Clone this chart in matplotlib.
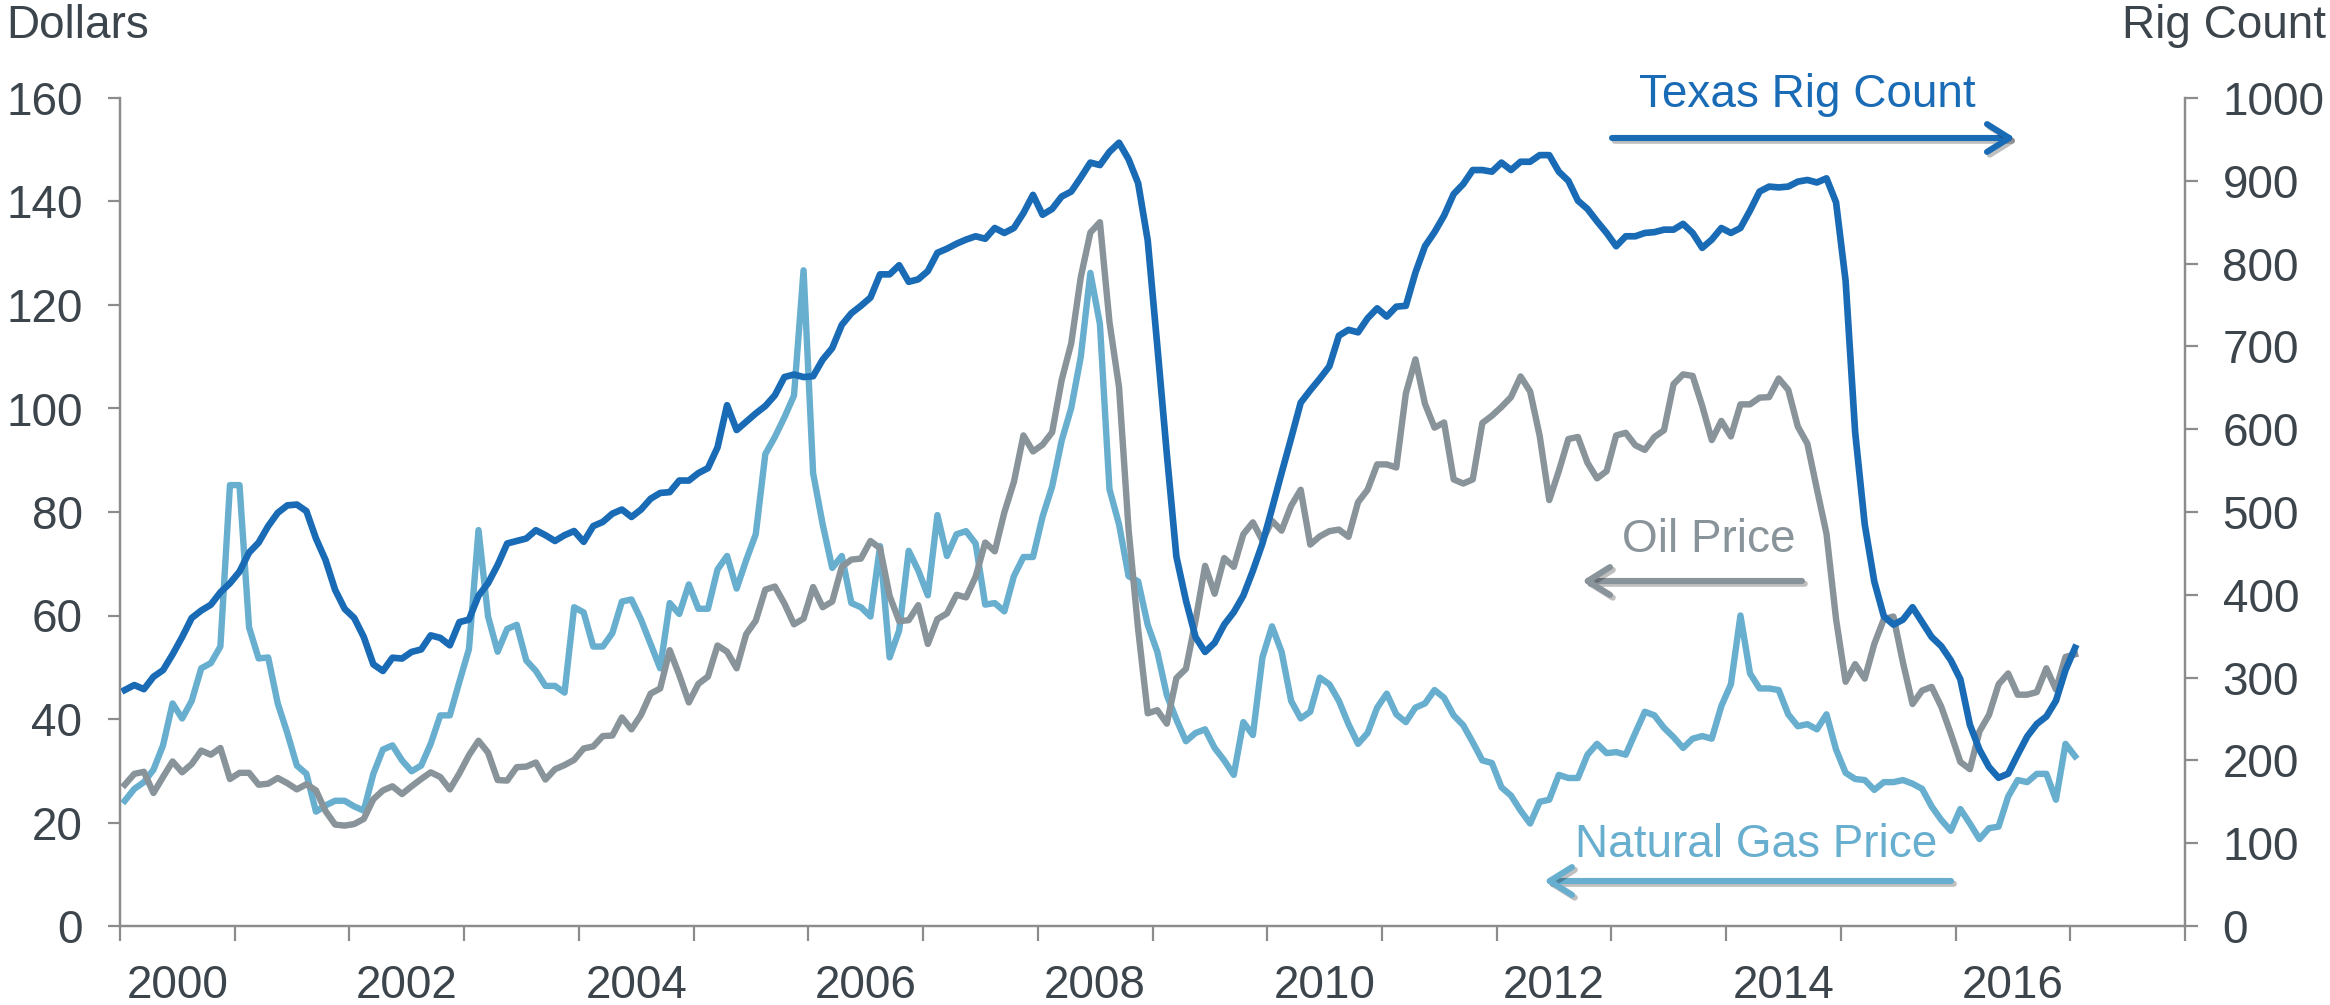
import numpy as np
import matplotlib
matplotlib.use("Agg")
import matplotlib.pyplot as plt
import matplotlib.patheffects as pe

plt.rcParams['font.family'] = ['Liberation Sans', 'DejaVu Sans']

# ---------- Data: monthly, Jan 2000 - Jan 2017 ----------
oil_price = [
    27.3, 29.4, 29.8, 25.7, 28.8, 31.8, 29.7, 31.3, 33.9, 33.1, 34.4, 28.4,   # 2000
    29.6, 29.6, 27.3, 27.5, 28.6, 27.6, 26.4, 27.4, 26.2, 22.2, 19.6, 19.4,   # 2001
    19.7, 20.7, 24.5, 26.2, 27.0, 25.5, 27.0, 28.4, 29.7, 28.8, 26.4, 29.5,   # 2002
    33.0, 35.8, 33.5, 28.2, 28.1, 30.7, 30.8, 31.6, 28.3, 30.3, 31.1, 32.1,   # 2003
    34.3, 34.7, 36.7, 36.8, 40.3, 38.0, 40.8, 44.9, 45.9, 53.3, 48.5, 43.2,   # 2004
    46.8, 48.2, 54.2, 53.0, 49.8, 56.4, 59.0, 65.0, 65.6, 62.3, 58.3, 59.4,   # 2005
    65.5, 61.6, 62.7, 69.4, 70.8, 71.0, 74.4, 73.0, 63.8, 58.9, 59.1, 62.0,   # 2006
    54.5, 59.3, 60.4, 64.0, 63.5, 67.5, 74.1, 72.4, 79.9, 85.8, 94.8, 91.7,   # 2007
    93.0, 95.4, 105.5, 112.6, 125.4, 134.0, 136.0, 116.7, 104.1, 76.6, 57.3, 41.1,  # 2008
    41.7, 39.1, 47.9, 49.7, 59.0, 69.6, 64.2, 71.1, 69.4, 75.7, 78.0, 74.5,   # 2009
    78.3, 76.4, 81.2, 84.3, 73.7, 75.3, 76.3, 76.6, 75.2, 81.9, 84.3, 89.2,   # 2010
    89.2, 88.6, 102.9, 109.5, 100.9, 96.3, 97.3, 86.3, 85.5, 86.3, 97.2, 98.6,  # 2011
    100.3, 102.2, 106.2, 103.3, 94.7, 82.3, 87.9, 94.1, 94.5, 89.5, 86.5, 87.9,  # 2012
    94.8, 95.3, 92.9, 92.0, 94.5, 95.8, 104.7, 106.6, 106.3, 100.5, 93.9, 97.6,  # 2013
    94.6, 100.8, 100.8, 102.1, 102.2, 105.8, 103.6, 96.5, 93.2, 84.4, 75.8, 59.3,  # 2014
    47.2, 50.6, 47.8, 54.5, 59.3, 59.8, 50.9, 42.9, 45.5, 46.2, 42.4, 37.2,   # 2015
    31.7, 30.3, 37.6, 40.8, 46.7, 48.8, 44.7, 44.7, 45.2, 49.8, 45.7, 52.0,   # 2016
    52.5,                                                                     # 2017
]

gas_price = [
    24.2, 26.5, 27.8, 30.2, 34.9, 43.0, 40.1, 43.5, 49.8, 50.8, 54.0, 85.2,
    85.2, 57.7, 51.7, 51.9, 43.0, 37.3, 31.0, 29.4, 22.1, 23.3, 24.2, 24.2,
    23.1, 22.3, 29.4, 34.1, 34.9, 32.0, 29.9, 31.0, 35.2, 40.7, 40.7, 47.2,
    53.5, 76.5, 59.8, 53.0, 57.4, 58.2, 51.3, 49.3, 46.4, 46.4, 45.1, 61.6,
    60.6, 54.0, 54.0, 56.6, 62.7, 63.1, 59.2, 54.5, 49.8, 62.4, 60.3, 66.0,
    61.3, 61.3, 68.9, 71.5, 65.2, 70.7, 75.7, 91.2, 94.5, 98.3, 102.5, 126.7,
    87.5, 77.6, 69.2, 71.5, 62.4, 61.6, 59.8, 73.4, 51.9, 57.1, 72.5, 68.7,
    63.9, 79.4, 71.5, 75.7, 76.3, 73.9, 62.1, 62.4, 60.8, 67.6, 71.3, 71.3,
    79.1, 84.9, 93.8, 100.1, 110.0, 126.2, 116.3, 84.4, 77.6, 67.6, 66.6, 58.2,
    53.0, 44.6, 39.9, 35.7, 37.3, 38.0, 34.4, 32.0, 29.2, 39.4, 36.9, 51.9,
    57.9, 53.0, 43.5, 40.1, 41.4, 48.0, 46.7, 43.5, 39.0, 35.2, 37.3, 42.2,
    44.9, 40.9, 39.4, 42.2, 43.0, 45.6, 44.1, 40.7, 38.8, 35.5, 32.0, 31.5,
    26.8, 25.2, 22.3, 19.8, 24.0, 24.4, 29.2, 28.6, 28.6, 33.1, 35.2, 33.4,
    33.6, 33.1, 37.3, 41.4, 40.7, 38.3, 36.5, 34.4, 36.2, 36.7, 36.2, 42.5,
    46.7, 60.0, 48.8, 45.9, 45.9, 45.6, 40.9, 38.6, 39.0, 38.0, 40.9, 34.1,
    29.6, 28.4, 28.2, 26.3, 27.8, 27.8, 28.2, 27.5, 26.5, 23.1, 20.5, 18.4,
    22.6, 19.8, 16.8, 18.9, 19.2, 25.0, 28.2, 27.8, 29.4, 29.4, 24.4, 35.2,
    32.8,
]

rig_count = [
    285, 291, 286, 301, 309, 328, 349, 372, 381, 388, 403, 414,
    428, 451, 463, 483, 499, 508, 509, 501, 468, 442, 406, 383,
    372, 349, 316, 308, 324, 323, 331, 334, 351, 348, 339, 367,
    370, 399, 414, 436, 462, 465, 468, 478, 472, 465, 472, 477,
    464, 483, 488, 498, 503, 494, 503, 516, 523, 524, 538, 538,
    547, 553, 578, 629, 599, 609, 619, 628, 641, 663, 666, 663,
    664, 684, 698, 726, 740, 749, 759, 787, 787, 798, 778, 781,
    791, 813, 818, 824, 829, 833, 830, 843, 837, 843, 861, 883,
    859, 866, 881, 887, 904, 922, 919, 935, 946, 926, 897, 828,
    701, 570, 446, 393, 349, 331, 342, 364, 379, 399, 429, 462,
    504, 547, 589, 632, 647, 661, 676, 713, 720, 717, 734, 746,
    736, 748, 749, 789, 821, 838, 858, 884, 896, 913, 913, 911,
    922, 913, 923, 923, 931, 931, 911, 900, 876, 866, 851, 837,
    821, 833, 833, 837, 838, 841, 841, 848, 837, 819, 829, 843,
    837, 843, 864, 887, 893, 892, 893, 899, 901, 898, 903, 874,
    779, 596, 485, 416, 374, 364, 370, 385, 367, 349, 338, 321,
    298, 243, 213, 192, 179, 184, 207, 229, 244, 253, 272, 309,
    336,
]

first_year = 2000
last_year = 2018
year_labels = [2000, 2002, 2004, 2006, 2008, 2010, 2012, 2014, 2016]
dollar_ticks = [0, 20, 40, 60, 80, 100, 120, 140, 160]
rig_ticks = [0, 100, 200, 300, 400, 500, 600, 700, 800, 900, 1000]

# ---------- Style ----------
RIG_BLUE = "#1a6bb5"
OIL_GRAY = "#89939a"
GAS_BLUE = "#67aecf"
TEXT = "#3d454c"
AXIS = "#8c8c8c"
FS = 33
W, H = 2330, 1005

# month midpoints in decimal years
x = first_year + (np.arange(len(oil_price)) + 0.5) / 12

fig = plt.figure(figsize=(W / 100, H / 100), dpi=100)
ax = fig.add_axes([120 / W, 1 - 926 / H, (2185 - 120) / W, (926 - 98) / H])
ax2 = ax.twinx()

ax.plot(x, gas_price, color=GAS_BLUE, lw=4.6, solid_joinstyle="round")
ax.plot(x, oil_price, color=OIL_GRAY, lw=4.6, solid_joinstyle="round")
ax2.plot(x, rig_count, color=RIG_BLUE, lw=4.8, solid_joinstyle="round")

ax.set_xlim(first_year, last_year)
ax.set_ylim(0, 160)
ax2.set_ylim(0, 1000)

for a in (ax, ax2):
    a.spines["top"].set_visible(False)
    for s in ("left", "right", "bottom"):
        a.spines[s].set_color(AXIS)
        a.spines[s].set_linewidth(1.6)

ax.set_yticks(dollar_ticks)
ax2.set_yticks(rig_ticks)
ax.tick_params(axis="y", direction="out", length=9, width=1.6, color=AXIS,
               labelsize=FS, labelcolor=TEXT, pad=18)
ax2.tick_params(axis="y", direction="out", length=9, width=1.6, color=AXIS,
                labelsize=FS, labelcolor=TEXT, pad=18)

# year boundaries as ticks, labels centred in the year
ax.set_xticks(range(first_year, last_year + 1))
ax.set_xticklabels([])
ax.set_xticks([y + 0.5 for y in year_labels], minor=True)
ax.set_xticklabels([str(y) for y in year_labels], minor=True)
ax.tick_params(axis="x", which="major", direction="out", length=11, width=1.6, color=AXIS)
ax.tick_params(axis="x", which="minor", length=0, labelsize=FS, labelcolor=TEXT, pad=27)

# axis titles
fig.text(6 / W, 1 - 26 / H, "Dollars", fontsize=FS, color=TEXT, ha="left", va="center")
fig.text(2326 / W, 1 - 26 / H, "Rig Count", fontsize=FS, color=TEXT, ha="right", va="center")

# ---------- Series labels with arrows ----------
shadow = [pe.SimpleLineShadow(offset=(2, -2), alpha=0.25), pe.Normal()]


def label_arrow(text, color, tx, ty, x0, x1, ay):
    fig.text(tx / W, 1 - ty / H, text, fontsize=FS, color=color, ha="center", va="center")
    arr = ax.annotate("", xy=(x1, H - ay), xytext=(x0, H - ay),
                      xycoords="figure pixels", textcoords="figure pixels",
                      arrowprops=dict(arrowstyle="->,head_length=0.8,head_width=0.5",
                                      color=color, lw=4.4, mutation_scale=20,
                                      shrinkA=0, shrinkB=0))
    arr.arrow_patch.set_path_effects(shadow)


label_arrow("Texas Rig Count", RIG_BLUE, 1807, 95, 1612, 2015, 138)
label_arrow("Oil Price", OIL_GRAY, 1709, 540, 1802, 1582, 581)
label_arrow("Natural Gas Price", GAS_BLUE, 1756, 845, 1951, 1544, 881)

fig.savefig("out.png", dpi=100)
